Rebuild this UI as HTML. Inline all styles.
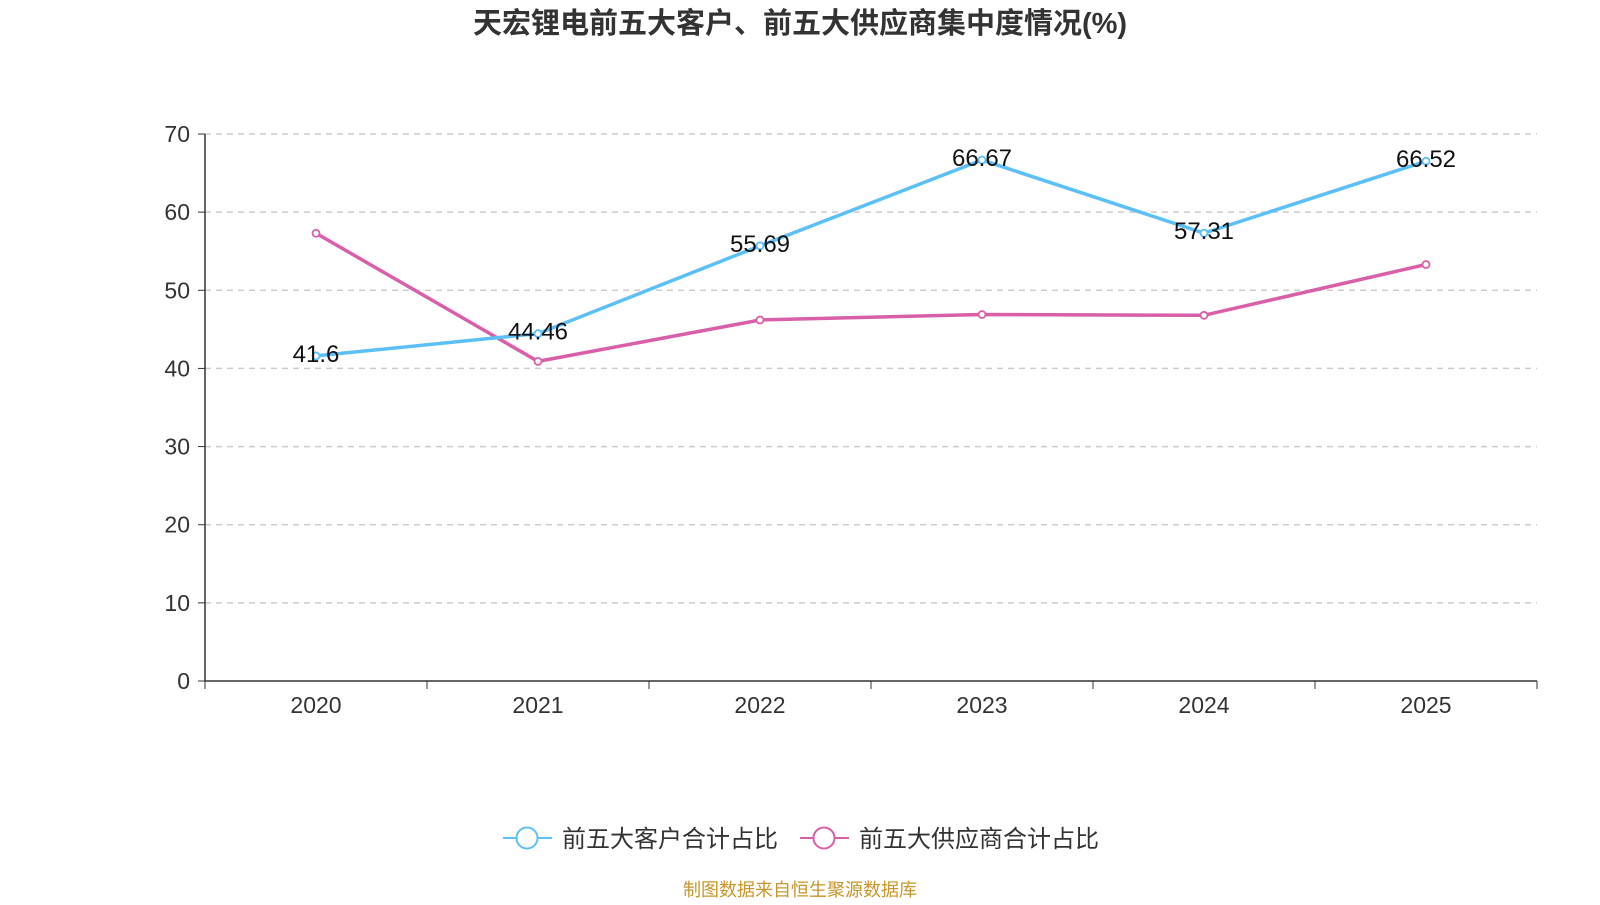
<!DOCTYPE html>
<html><head><meta charset="utf-8"><style>
body{margin:0;background:#fff;width:1600px;height:900px;overflow:hidden;font-family:"Liberation Sans","Noto Sans CJK SC",sans-serif}
</style></head><body>
<svg id="c" width="1600" height="900" style="font-family:'Liberation Sans','Noto Sans CJK SC',sans-serif">
<text x="800" y="33" text-anchor="middle" font-size="29" font-weight="bold" fill="#333">天宏锂电前五大客户、前五大供应商集中度情况(%)</text>
<g id="grid"></g><g id="axes"></g><g id="series"></g>
<g>
<g>
<line x1="503" y1="838" x2="552" y2="838" stroke="#5bc0f8" stroke-width="2"/>
<circle cx="527" cy="838" r="10.5" fill="#fff" stroke="#5bc0f8" stroke-width="2"/>
<text x="562" y="847" font-size="24" fill="#333">前五大客户合计占比</text></g>
<g>
<line x1="800" y1="838" x2="849" y2="838" stroke="#d85fa8" stroke-width="2"/>
<circle cx="824" cy="838" r="10.5" fill="#fff" stroke="#d85fa8" stroke-width="2"/>
<text x="859" y="847" font-size="24" fill="#333">前五大供应商合计占比</text></g>
</g>
<text x="800" y="896" text-anchor="middle" font-size="18" fill="#c8962a">制图数据来自恒生聚源数据库</text>
</svg>
<script>
const years=["2020","2021","2022","2023","2024","2025"];
const customers=[41.6,44.46,55.69,66.67,57.31,66.52];
const suppliers=[57.3,40.9,46.2,46.9,46.8,53.3];
const yTicks=[0,10,20,30,40,50,60,70];
const NS="http://www.w3.org/2000/svg";
const L=205,R=1537,T=134,B=681,step=(R-L)/years.length;
const x=i=>L+step*(i+0.5);
const y=v=>B-(v/70)*(B-T);
function mk(tag,attrs,parent,txt){const e=document.createElementNS(NS,tag);for(const k in attrs)e.setAttribute(k,attrs[k]);if(txt!==undefined)e.textContent=txt;parent.appendChild(e);return e;}
const grid=document.getElementById('grid'),axes=document.getElementById('axes'),ser=document.getElementById('series');
yTicks.forEach(t=>{
 if(t>0){const g=mk('line',{x1:L,x2:R,y1:y(t),y2:y(t),stroke:'#ccc','stroke-dasharray':'6,5','stroke-width':1.5},grid);
 
 }
 mk('line',{x1:L-7,x2:L,y1:y(t),y2:y(t),stroke:'#333'},axes);
 const lb=mk('text',{x:L-15,y:y(t)+8,'text-anchor':'end','font-size':23,fill:'#333'},axes,t);
 
 
});
mk('line',{x1:L,x2:L,y1:T,y2:B,stroke:'#333','stroke-width':1.5},axes);
mk('line',{x1:L,x2:R,y1:B,y2:B,stroke:'#333','stroke-width':1.5},axes);
for(let i=0;i<=years.length;i++)mk('line',{x1:L+step*i,x2:L+step*i,y1:B,y2:B+8,stroke:'#333'},axes);
years.forEach((yr,i)=>{const lb=mk('text',{x:x(i),y:B+32,'text-anchor':'middle','font-size':23,fill:'#333'},axes,yr);
 
 });
function draw(vals,color,name,labels){
 const p=mk('polyline',{points:vals.map((v,i)=>x(i)+','+y(v)).join(' '),fill:'none',stroke:color,'stroke-width':3.5},ser);
 
 
 vals.forEach((v,i)=>{const c=mk('circle',{cx:x(i),cy:y(v),r:3.5,fill:'#fff',stroke:color,'stroke-width':1.8},ser);
  
  
  if(labels){const t=mk('text',{x:x(i),y:y(v)+6,'text-anchor':'middle','font-size':24,fill:'#111'},ser,v);
  
  }});
}
draw(suppliers,'#d85fa8','suppliers',false);
draw(customers,'#5bc0f8','customers',true);
</script>
</body></html>
